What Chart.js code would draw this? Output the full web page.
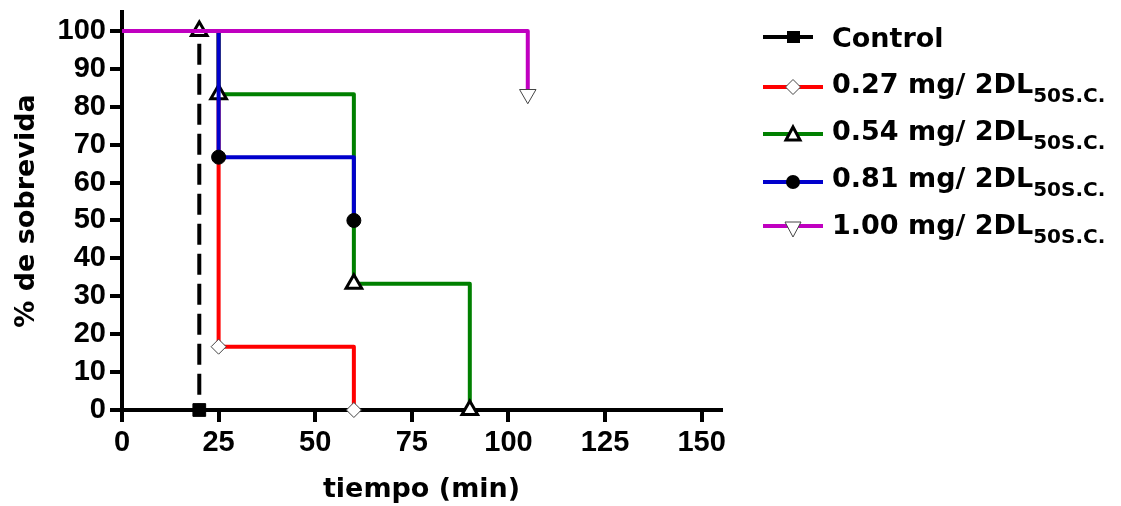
<!DOCTYPE html>
<html>
<head>
<meta charset="utf-8">
<script src="https://cdn.jsdelivr.net/npm/chart.js@4.4.0/dist/chart.umd.min.js"></script>
<style>
  body { margin: 0; background: #fff; }
  #wrap { position: relative; width: 1121px; height: 506px; }
  #legend { position: absolute; left: 763px; top: 0; font-family: "DejaVu Sans", sans-serif; font-weight: bold; font-size: 27px; color: #000; }
  .row { position: absolute; left: 0; height: 48px; display: flex; align-items: center; white-space: nowrap; }
  .row svg { margin-right: 9px; }
  .sub { font-size: 20px; vertical-align: -9px; }
</style>
</head>
<body>
<div id="wrap">
  <canvas id="kmChart"></canvas>
  <div id="legend"></div>
</div>
<script>
// Kaplan-Meier survival data (time in min, % survival)
const controlX = [0, 20];
const controlY = [100, 0];
const dose027X = [0, 25, 60];
const dose027Y = [100, 16.7, 0];
const dose054X = [0, 20, 25, 60, 90];
const dose054Y = [100, 100, 83.3, 33.3, 0];
const dose081X = [0, 25, 60];
const dose081Y = [100, 66.7, 50];
const dose100X = [0, 105];
const dose100Y = [100, 83.3];

const seriesNames = ['Control', '0.27 mg/ 2DL', '0.54 mg/ 2DL', '0.81 mg/ 2DL', '1.00 mg/ 2DL'];
const subText = '50S.C.';

const xTicks = [0, 25, 50, 75, 100, 125, 150];
const yTicks = [0, 10, 20, 30, 40, 50, 60, 70, 80, 90, 100];

function pts(xs, ys) {
    return xs.map((x, i) => ({ x: x, y: ys[i] }));
}

function markerRadius(r) {
    return ctx => ctx.dataIndex === 0 ? 0 : r;
}

const base = {
    stepped: 'before',
    borderWidth: 4,
    borderJoinStyle: 'round',
    fill: false,
    clip: false,
    pointHoverRadius: 0
};

const datasets = [
    Object.assign({}, base, {
        label: seriesNames[4], data: pts(dose100X, dose100Y), order: 0,
        borderColor: '#c000c0', pointStyle: 'triangle', rotation: 180,
        pointRadius: markerRadius(9.5), pointBackgroundColor: '#fff',
        pointBorderColor: '#444', pointBorderWidth: 1
    }),
    Object.assign({}, base, {
        label: seriesNames[3], data: pts(dose081X, dose081Y), order: 1,
        borderColor: '#0000cc', pointStyle: 'circle',
        pointRadius: markerRadius(7), pointBackgroundColor: '#000',
        pointBorderColor: '#000', pointBorderWidth: 1
    }),
    Object.assign({}, base, {
        label: seriesNames[2], data: pts(dose054X, dose054Y), order: 2,
        borderColor: '#008000', pointStyle: 'triangle',
        pointRadius: markerRadius(9), pointBackgroundColor: '#fff',
        pointBorderColor: '#000', pointBorderWidth: 3
    }),
    Object.assign({}, base, {
        label: seriesNames[1], data: pts(dose027X, dose027Y), order: 3,
        borderColor: '#ff0000', pointStyle: 'rectRot',
        pointRadius: markerRadius(7.5), pointBackgroundColor: '#fff',
        pointBorderColor: '#444', pointBorderWidth: 1
    }),
    Object.assign({}, base, {
        label: seriesNames[0], data: pts(controlX, controlY), order: 4,
        borderColor: '#000', borderDash: [21, 9], pointStyle: 'rect',
        pointRadius: markerRadius(9), pointBackgroundColor: '#000',
        pointBorderColor: '#000', pointBorderWidth: 1
    })
];

const tickFont = { family: 'Liberation Sans', weight: 'bold', size: 29 };
const titleFont = { family: 'DejaVu Sans', weight: 'bold', size: 27 };

new Chart(document.getElementById('kmChart'), {
    type: 'line',
    data: { datasets: datasets },
    options: {
        responsive: true,
        maintainAspectRatio: false,
        animation: false,
        events: [],
        layout: { padding: { left: 0, right: 400, top: 11, bottom: 0 } },
        plugins: { legend: { display: false }, tooltip: { enabled: false } },
        scales: {
            x: {
                type: 'linear',
                min: 0, max: 155,
                afterBuildTicks: s => { s.ticks = xTicks.map(v => ({ value: v })); },
                afterFit: s => { s.height = 96; s.paddingLeft = 0; s.paddingRight = 0; },
                grid: { drawOnChartArea: false, drawTicks: true, tickLength: 12, lineWidth: 4, color: '#000' },
                border: { display: true, width: 4, color: '#000' },
                ticks: { color: '#000', font: tickFont, padding: 4, maxRotation: 0 },
                title: { display: true, text: 'tiempo (min)', color: '#000', font: titleFont, padding: { top: 0, bottom: 0 } }
            },
            y: {
                type: 'linear',
                min: 0, max: 105,
                afterBuildTicks: s => { s.ticks = yTicks.map(v => ({ value: v })); },
                afterFit: s => { s.width = 122; s.paddingTop = 0; s.paddingBottom = 0; },
                grid: { drawOnChartArea: false, drawTicks: true, tickLength: 12, lineWidth: 4, color: '#000' },
                border: { display: true, width: 4, color: '#000' },
                ticks: { color: '#000', font: tickFont, padding: 4 },
                title: { display: true, text: '% de sobrevida', color: '#000', font: titleFont, padding: { top: 11, bottom: 0 } }
            }
        }
    }
});

// legend with subscripts, built as HTML
const swatches = [
    '<svg width="60" height="20"><line x1="0" y1="10" x2="50" y2="10" stroke="#000" stroke-width="4"/><rect x="24" y="4" width="13" height="12" fill="#000"/></svg>',
    '<svg width="60" height="20"><line x1="0" y1="10" x2="60" y2="10" stroke="#ff0000" stroke-width="4"/><polygon points="22.5,10 30,2.5 37.5,10 30,17.5" fill="#fff" stroke="#444" stroke-width="1"/></svg>',
    '<svg width="60" height="22"><line x1="0" y1="11" x2="60" y2="11" stroke="#008000" stroke-width="4"/><polygon points="30,4 37,17 23,17" fill="#fff" stroke="#000" stroke-width="3"/></svg>',
    '<svg width="60" height="20"><line x1="0" y1="10" x2="60" y2="10" stroke="#0000cc" stroke-width="4"/><circle cx="30" cy="10" r="7" fill="#000"/></svg>',
    '<svg width="60" height="22"><line x1="0" y1="8" x2="60" y2="8" stroke="#c000c0" stroke-width="4"/><polygon points="22,4 38,4 30,19" fill="#fff" stroke="#444" stroke-width="1"/></svg>'
];
const legend = document.getElementById('legend');
seriesNames.forEach((name, i) => {
    const row = document.createElement('div');
    row.className = 'row';
    row.style.top = (i === 0 ? 13 : 63 + (i - 1) * 47.3) + 'px';
    row.innerHTML = swatches[i] + '<span>' + name + (i > 0 ? '<span class="sub">' + subText + '</span>' : '') + '</span>';
    legend.appendChild(row);
});
</script>
</body>
</html>
